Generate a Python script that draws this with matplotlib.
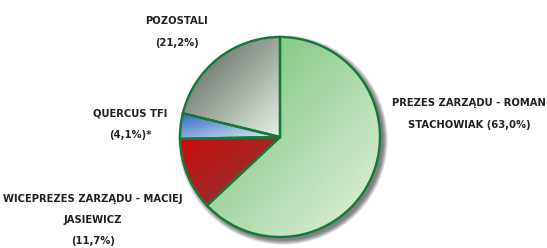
import numpy as np
import matplotlib.pyplot as plt
from matplotlib.colors import LinearSegmentedColormap
from matplotlib.patches import Circle

# dane
labels = [
    "PREZES ZARZĄDU - ROMAN\nSTACHOWIAK (63,0%)",
    "WICEPREZES ZARZĄDU - MACIEJ\nJASIEWICZ\n(11,7%)",
    "QUERCUS TFI\n(4,1%)*",
    "POZOSTALI\n(21,2%)",
]
shares = [63.0, 11.7, 4.1, 21.2]
grad_start = ["#72bf6f", "#cc0c0c", "#2f68c8", "#545a54"]
grad_end = ["#e2f2e2", "#843a3a", "#e6f4ee", "#e4f3e4"]
label_pos = [(469, 134), (93, 28), (130, 124), (177, 216)]

fig = plt.figure(figsize=(5.47, 2.48), dpi=100)
ax = fig.add_axes([0, 0, 1, 1])

cx, cy, r = 280, 111, 100

# cien
for i in range(7):
    ax.add_patch(Circle((cx + 3, cy - 3), r + 0.5 + i * 0.7, color="black",
                        alpha=0.09, lw=0, zorder=0))

wedges, _ = ax.pie(
    shares,
    startangle=90,
    counterclock=False,
    center=(cx, cy),
    radius=r,
    frame=True,
    wedgeprops=dict(edgecolor="#157838", linewidth=1.7, facecolor="none"),
)
ax.set_xlim(0, 547)
ax.set_ylim(0, 248)
ax.set_aspect("equal")
ax.axis("off")

# gradienty w klinach
yy, xx = np.mgrid[0:1:200j, 0:1:200j]
diag = (xx + yy) / 2
for w, c0, c1 in zip(wedges, grad_start, grad_end):
    x0, y0, x1, y1 = w.get_path().get_extents(w.get_transform() - ax.transData).extents
    cmap = LinearSegmentedColormap.from_list("g", [c0, c1])
    im = ax.imshow(diag, cmap=cmap, extent=(x0, x1, y0, y1), origin="upper",
                   zorder=1, aspect="auto")
    im.set_clip_path(w)
    w.set_zorder(2)

for text, (x, y) in zip(labels, label_pos):
    ax.text(x, y, text, ha="center", va="center", fontsize=8,
            family="DejaVu Sans", fontstretch="condensed",
            fontweight="bold", color="#222222", linespacing=2.4)

fig.savefig("out.png", dpi=100)
